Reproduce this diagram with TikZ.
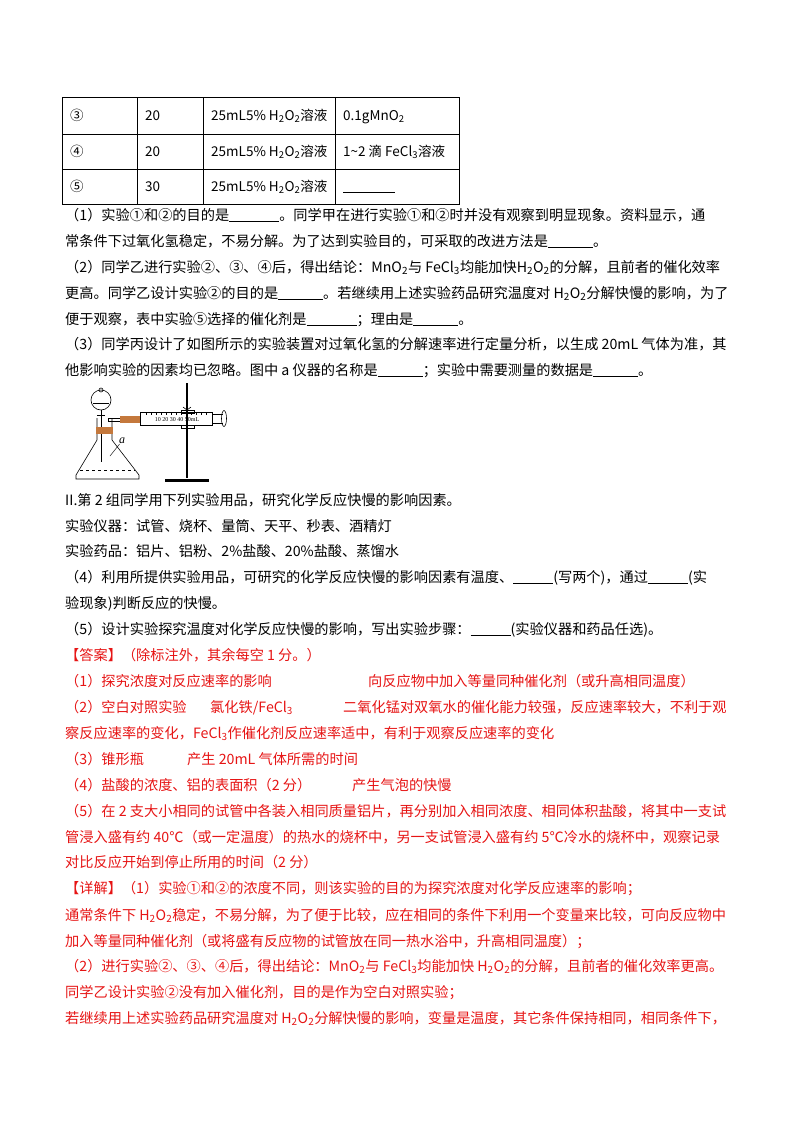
\documentclass[tikz,border=0pt]{standalone}
\usepackage{fontspec}
\setmainfont{Noto Sans CJK SC}
\newfontfamily\latinfont{Liberation Serif}
\definecolor{ansred}{RGB}{230,20,20}
\definecolor{cork}{RGB}{196,120,60}
\newcommand{\blank}[1]{\underline{\hspace{#1}}}
\newcommand{\hh}{H\textsubscript{2}O\textsubscript{2}}
\tikzset{
  txt/.style={anchor=base west, inner sep=0pt, font=\fontsize{14.2}{17}\selectfont},
  ans/.style={txt, text=ansred},
  cell/.style={anchor=base west, inner sep=0pt, font=\fontsize{13.5}{16}\selectfont},
  glass/.style={draw, line width=0.6pt}
}
\begin{document}
\begin{tikzpicture}[x=1pt,y=-1pt]
  \useasboundingbox (0,0) rectangle (800,1132);
  % table
  \draw[line width=0.7pt] (62,97) rectangle (459,204);
  \foreach \yy in {134,169} \draw[line width=0.7pt] (62,\yy) -- (459,\yy);
  \foreach \xx in {137,203,335} \draw[line width=0.7pt] (\xx,97) -- (\xx,204);
  \node[cell] (r1a) at (70,120) {③};
  \node[cell] (r1b) at (145,120) {20};
  \node[cell] (r1c) at (211,120) {25mL5\% \hh{}溶液};
  \node[cell] (r1d) at (343,120) {0.1gMnO\textsubscript{2}};
  \node[cell] (r2a) at (70,156) {④};
  \node[cell] (r2b) at (145,156) {20};
  \node[cell] (r2c) at (211,156) {25mL5\% \hh{}溶液};
  \node[cell] (r2d) at (343,156) {1\textasciitilde2 滴 FeCl\textsubscript{3}溶液};
  \node[cell] (r3a) at (70,191) {⑤};
  \node[cell] (r3b) at (145,191) {30};
  \node[cell] (r3c) at (211,191) {25mL5\% \hh{}溶液};
  \node[cell] (r3d) at (343,191) {\blank{52pt}};
  % questions
  \node[txt] (q1a) at (65,220) {（1）实验①和②的目的是\blank{50pt}。同学甲在进行实验①和②时并没有观察到明显现象。资料显示，通};
  \node[txt] (q1b) at (65,246) {常条件下过氧化氢稳定，不易分解。为了达到实验目的，可采取的改进方法是\blank{45pt}。};
  \node[txt] (q2a) at (65,272) {（2）同学乙进行实验②、③、④后，得出结论：MnO\textsubscript{2}与 FeCl\textsubscript{3}均能加快\hh{}的分解，且前者的催化效率};
  \node[txt] (q2b) at (65,298) {更高。同学乙设计实验②的目的是\blank{45pt}。若继续用上述实验药品研究温度对 \hh{}分解快慢的影响，为了};
  \node[txt] (q2c) at (65,324) {便于观察，表中实验⑤选择的催化剂是\blank{50pt}；理由是\blank{45pt}。};
  \node[txt] (q3a) at (65,349) {（3）同学丙设计了如图所示的实验装置对过氧化氢的分解速率进行定量分析，以生成 20mL 气体为准，其};
  \node[txt] (q3b) at (65,375) {他影响实验的因素均已忽略。图中 a 仪器的名称是\blank{45pt}；实验中需要测量的数据是\blank{45pt}。};
  % apparatus
  \draw[glass] (97,418) -- (97,440) -- (76,475) -- (76,479) -- (139,479) -- (139,475) -- (112,440) -- (112,418);
  \draw[glass, dashed] (80,470) -- (135,470);
  \draw[glass] (101,400) circle (10);
  \draw[glass] (101,390) circle (2);
  \draw[glass] (93,403) -- (109,403);
  \draw[glass] (101,410) -- (101,462);
  \draw[glass] (97,415) -- (105,415);
  \fill[cork] (96,427) rectangle (113,434);
  \draw[glass] (108,418) -- (108,421) -- (141,421);
  \draw[glass] (108,418) -- (141,418);
  \fill[cork] (120,416) rectangle (140,423);
  \draw[glass] (140,412) rectangle (212,425);
  \foreach \k in {0,...,12} \draw[line width=0.4pt] ({146+5*\k},412) -- ({146+5*\k},415);
  \node[anchor=center, inner sep=0pt, font=\latinfont\fontsize{6}{6}\selectfont] (scale) at (177,420) {10 20 30 40 50mL};
  \draw[glass] (212,414) -- (223,414) (212,423) -- (223,423);
  \draw[glass] (224,418.5) ellipse (2.5 and 8);
  \draw[line width=1.2pt] (187,383) -- (187,478);
  \fill (165,479) rectangle (209,482);
  \draw[glass] (181,410) rectangle (194,413) (181,425) rectangle (194,428);
  \draw[glass] (183,407) -- (187,410) -- (191,407);
  \node[inner sep=0pt, font=\latinfont\itshape\fontsize{12}{12}\selectfont] (alabel) at (122,441) {a};
  \draw[line width=0.4pt] (alabel) -- (110,456);
  % part II
  \node[txt] (p2) at (65,505) {II.第 2 组同学用下列实验用品，研究化学反应快慢的影响因素。};
  \node[txt] (yq) at (65,531) {实验仪器：试管、烧杯、量筒、天平、秒表、酒精灯};
  \node[txt] (yp) at (65,556) {实验药品：铝片、铝粉、2\%盐酸、20\%盐酸、蒸馏水};
  \node[txt] (q4a) at (65,582) {（4）利用所提供实验用品，可研究的化学反应快慢的影响因素有温度、\blank{40pt}(写两个)，通过\blank{40pt}(实};
  \node[txt] (q4b) at (65,608) {验现象)判断反应的快慢。};
  \node[txt] (q5) at (65,634) {（5）设计实验探究温度对化学反应快慢的影响，写出实验步骤：\blank{40pt}(实验仪器和药品任选)。};
  % answers
  \node[ans] (da) at (65,660) {【答案】（除标注外，其余每空 1 分。）};
  \node[ans] (a1) at (65,686) {（1）探究浓度对反应速率的影响};
  \node[ans] (a1b) at (368,686) {向反应物中加入等量同种催化剂（或升高相同温度）};
  \node[ans] (a2) at (65,712) {（2）空白对照实验};
  \node[ans] (a2b) at (210,712) {氯化铁/FeCl\textsubscript{3}};
  \node[ans] (a2c) at (343,712) {二氧化锰对双氧水的催化能力较强，反应速率较大，不利于观};
  \node[ans] (a2d) at (65,738) {察反应速率的变化，FeCl\textsubscript{3}作催化剂反应速率适中，有利于观察反应速率的变化};
  \node[ans] (a3) at (65,764) {（3）锥形瓶};
  \node[ans] (a3b) at (187,764) {产生 20mL 气体所需的时间};
  \node[ans] (a4) at (65,790) {（4）盐酸的浓度、铝的表面积（2 分）};
  \node[ans] (a4b) at (352,790) {产生气泡的快慢};
  \node[ans] (a5a) at (65,816) {（5）在 2 支大小相同的试管中各装入相同质量铝片，再分别加入相同浓度、相同体积盐酸，将其中一支试};
  \node[ans] (a5b) at (65,842) {管浸入盛有约 40℃（或一定温度）的热水的烧杯中，另一支试管浸入盛有约 5℃冷水的烧杯中，观察记录};
  \node[ans] (a5c) at (65,867) {对比反应开始到停止所用的时间（2 分）};
  \node[ans] (x0) at (65,893) {【详解】（1）实验①和②的浓度不同，则该实验的目的为探究浓度对化学反应速率的影响；};
  \node[ans] (x1) at (65,920) {通常条件下 \hh{}稳定，不易分解，为了便于比较，应在相同的条件下利用一个变量来比较，可向反应物中};
  \node[ans] (x2) at (65,946) {加入等量同种催化剂（或将盛有反应物的试管放在同一热水浴中，升高相同温度）；};
  \node[ans] (x3) at (65,971) {（2）进行实验②、③、④后，得出结论：MnO\textsubscript{2}与 FeCl\textsubscript{3}均能加快 \hh{}的分解，且前者的催化效率更高。};
  \node[ans] (x4) at (65,997) {同学乙设计实验②没有加入催化剂，目的是作为空白对照实验；};
  \node[ans] (x5) at (65,1023) {若继续用上述实验药品研究温度对 \hh{}分解快慢的影响，变量是温度，其它条件保持相同，相同条件下，};
\end{tikzpicture}
\end{document}
